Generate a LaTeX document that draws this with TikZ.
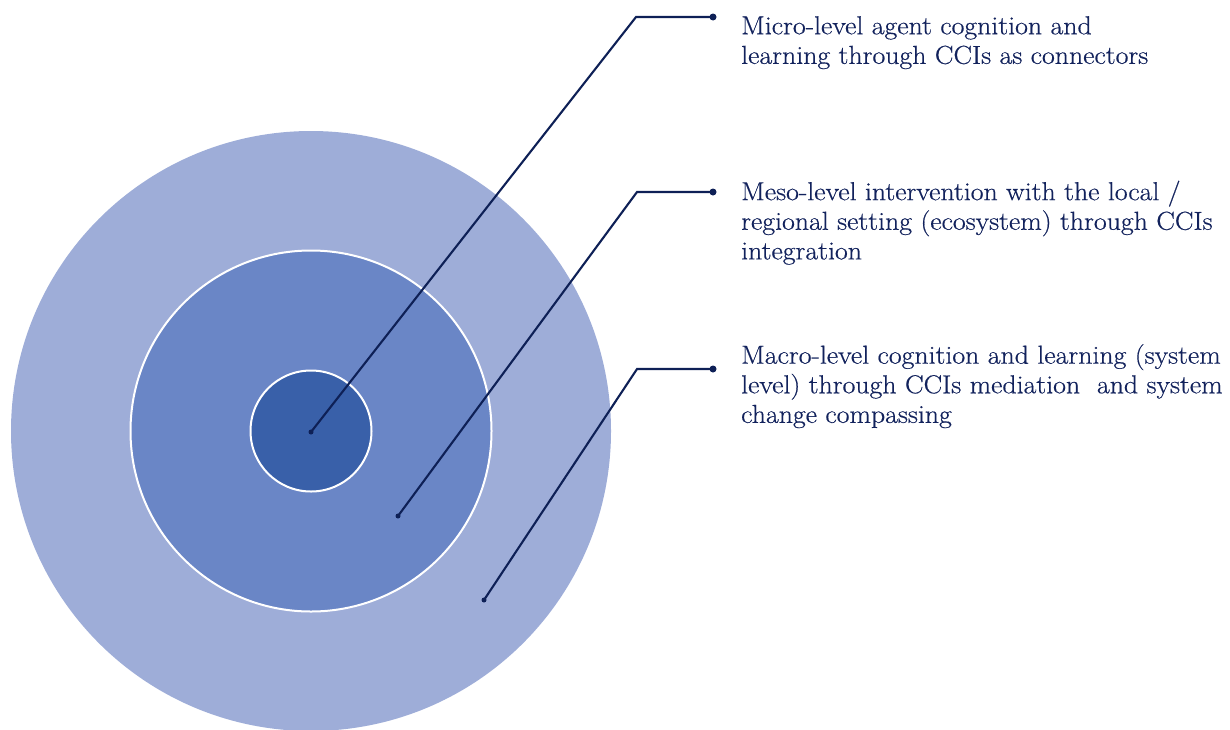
\documentclass[tikz,border=0pt]{standalone}
\usepackage{fontspec}
\usepackage{tikz}
\usetikzlibrary{positioning,calc}
\newfontfamily\levelfont{Latin Modern Roman}[FakeStretch=1.07,FakeBold=0.5]
\definecolor{ringout}{RGB}{158,173,216}
\definecolor{ringmid}{RGB}{106,134,198}
\definecolor{ringin}{RGB}{57,96,169}
\definecolor{leadnavy}{RGB}{14,32,86}
\definecolor{textnavy}{RGB}{18,34,92}
\tikzset{
  ring/.style={circle, inner sep=0pt, draw=white, line width=2pt},
  leader/.style={leadnavy, line width=2.1pt},
  tip/.style={circle, fill=leadnavy, inner sep=0pt, minimum size=7pt},
  leveltext/.style={anchor=north west, align=left, text=textnavy,
    inner sep=0pt, font=\levelfont\fontsize{26}{29.6}\selectfont}
}

\begin{document}
\begin{tikzpicture}[x=1pt, y=-1pt]
  \useasboundingbox (0,0) rectangle (1230,729);

  % Concentric rings
  \node[ring, fill=ringout, draw=none, minimum size=600pt] (macro) at (311,431) {};
  \node[ring, fill=ringmid, minimum size=361pt] (meso) at (311,431) {};
  \node[ring, fill=ringin, minimum size=121pt] (micro) at (311,431) {};

  % Leader ends
  \node[tip, minimum size=5pt] (microin) at (311,432) {};
  \node[tip, minimum size=5pt] (mesoin)  at (398,516) {};
  \node[tip, minimum size=5pt] (macroin) at (484,600) {};
  \coordinate (microbend) at (636,17);
  \coordinate (mesobend)  at (637,192);
  \coordinate (macrobend) at (637,369);
  \node[tip] (microout) at (713,17) {};
  \node[tip] (mesoout)  at (713,192) {};
  \node[tip] (macroout) at (713,369) {};

  % Leader lines
  \draw[leader] (microin.center) -- (microbend) -- (microout.center);
  \draw[leader] (mesoin.center) -- (mesobend) -- (mesoout.center);
  \draw[leader] (macroin.center) -- (macrobend) -- (macroout.center);

  % Level descriptions
  \node[leveltext] (microtext) at (741,16)
    {Micro-level agent cognition and\\learning through CCIs as connectors};
  \node[leveltext] (mesotext) at (741,180.5)
    {Meso-level intervention with the local /\\regional setting (ecosystem) through CCIs\\integration};
  \node[leveltext] (macrotext) at (741,344)
    {Macro-level cognition and learning (system\\level) through CCIs mediation \ and system\\change compassing};
\end{tikzpicture}
\end{document}
